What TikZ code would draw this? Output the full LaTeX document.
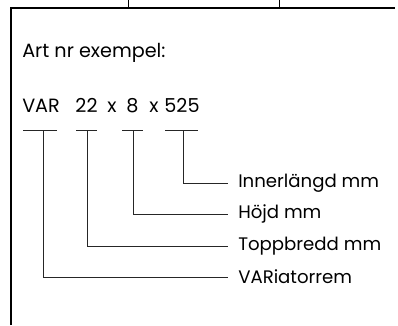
\documentclass[tikz,border=0pt]{standalone}
\usepackage{fontspec}
\setmainfont{Poppins}
\usetikzlibrary{positioning}

\begin{document}
\begin{tikzpicture}[
    x=0.75pt, y=-0.75pt,
    frame/.style={draw=black, line width=1.5pt},
    thin/.style={draw=black, line width=0.75pt},
    lead/.style={draw=black!85, line width=0.7pt},
    txt/.style={anchor=base west, inner sep=0pt, font=\fontsize{14.4}{17}\selectfont},
    tok/.style={anchor=base, inner sep=0pt, font=\fontsize{14.4}{17}\selectfont},
    lbl/.style={anchor=west, inner xsep=7.5pt, inner ysep=0pt, font=\fontsize{13.6}{16}\selectfont}
]
\useasboundingbox (0,0) rectangle (398,325);

% ===== frame =====
\coordinate (tl) at (10.5,7.5);
\coordinate (tr) at (395,7.5);
\coordinate (bl) at (10.5,325);
\draw[frame] (bl) -- (tl) -- (tr);

% cells above the frame
\draw[thin] (128,0) -- (128,7.5);
\draw[thin] (279,0) -- (279,7.5);

% ===== texts =====
\node[txt] (head) at (22,57) {Art nr exempel:};
\node[txt] (cvar) at (22,112) {VAR};
\node[tok] (c22)  at (86.5,112) {22};
\node[tok] (cx1)  at (112,112) {x};
\node[tok] (c8)   at (132.5,112) {8};
\node[tok] (cx2)  at (154,112) {x};
\node[tok] (c525) at (182,112) {525};

% ===== brackets under the code =====
\coordinate (var)  at (43,130);
\coordinate (topp) at (87,130);
\coordinate (hojd) at (133,130);
\coordinate (inn)  at (183,130);

\draw[lead] (23,130) -- (57,130);
\draw[lead] (76,130) -- (97,130);
\draw[lead] (122,130) -- (143,130);
\draw[lead] (165,130) -- (198,130);

% ===== labels =====
\node[lbl] (linn)  at (228,183) {Innerlängd mm};
\node[lbl] (lhojd) at (228,214) {Höjd mm};
\node[lbl] (ltopp) at (228,246) {Toppbredd mm};
\node[lbl] (lvar)  at (228,277) {VARiatorrem};

\draw[lead] (inn)  |- (linn.west);
\draw[lead] (hojd) |- (lhojd.west);
\draw[lead] (topp) |- (ltopp.west);
\draw[lead] (var)  |- (lvar.west);

\end{tikzpicture}
\end{document}
